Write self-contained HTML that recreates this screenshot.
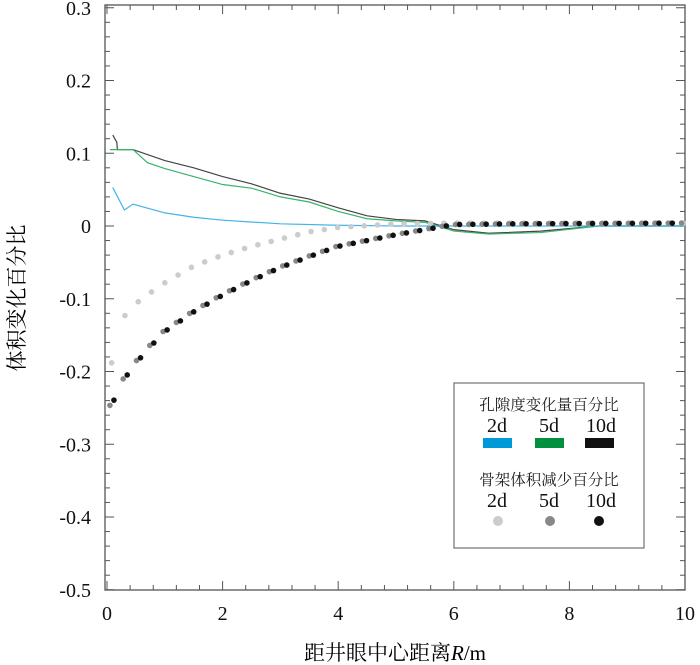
<html><head><style>body{margin:0;background:#fff}svg text{font-family:"Liberation Serif","Noto Serif CJK SC",serif}</style></head><body>
<svg id="s" width="700" height="665" xmlns="http://www.w3.org/2000/svg">
<rect x="105" y="5" width="580" height="585" fill="none" stroke="#555" stroke-width="1.3"/>
<g id="ax" stroke="#555" stroke-width="1"></g>
<g id="lab" font-size="20" fill="#111"></g>
<g id="dat"></g>
<text x="395" y="660" font-size="21" text-anchor="middle" font-family="'Liberation Serif','Noto Sans CJK SC',serif">距井眼中心距离<tspan font-style="italic">R</tspan>/m</text>
<text transform="translate(24,298) rotate(-90)" font-size="21" text-anchor="middle" font-family="'Noto Sans CJK SC',sans-serif">体积变化百分比</text>
<rect x="454" y="383" width="190" height="165" fill="#fff" stroke="#555" stroke-width="1"/>
<g font-size="15.5" font-family="'Noto Sans CJK SC',sans-serif" fill="#222"><text x="549" y="410" text-anchor="middle">孔隙度变化量百分比</text><text x="549" y="485" text-anchor="middle">骨架体积减少百分比</text></g>
<g font-size="20" fill="#111" text-anchor="middle"><text x="497" y="432">2d</text><text x="549" y="432">5d</text><text x="601" y="432">10d</text><text x="497" y="507">2d</text><text x="549" y="507">5d</text><text x="601" y="507">10d</text></g>
<rect x="483" y="438" width="29" height="10" fill="#0099d8"/><rect x="535" y="438" width="29" height="10" fill="#009040"/><rect x="585" y="438" width="29" height="10" fill="#111"/>
<circle cx="498" cy="521" r="5" fill="#ccc"/><circle cx="550" cy="521" r="5" fill="#888"/><circle cx="599" cy="521" r="5" fill="#111"/>
</svg>
<script>
var X=x=>107+57.8*x,Y=y=>226-727.5*y,ns="http://www.w3.org/2000/svg";
function el(p,t,a){var e=document.createElementNS(ns,t);for(var k in a)e.setAttribute(k,a[k]);document.getElementById(p).appendChild(e);return e}
for(var i=0;i<=40;i++){var v=0.3-i*0.02,y=Y(v),m=i%5==0,L=m?9:5;el("ax","line",{x1:105,x2:105+L,y1:y,y2:y});el("ax","line",{x1:685,x2:685-L,y1:y,y2:y});
if(m){var t=el("lab","text",{x:91,y:y+7,"text-anchor":"end"});var r=Math.round(v*10)/10;t.textContent=r==0?"0":r.toFixed(1)}}
for(var i=0;i<=25;i++){var x=X(i*0.4),m=i%5==0,L=m?9:5;el("ax","line",{x1:x,x2:x,y1:590,y2:590-L});el("ax","line",{x1:x,x2:x,y1:5,y2:5+L});
if(m){var t=el("lab","text",{x:x,y:620,"text-anchor":"middle"});t.textContent=i*0.4}}
function interp(P,x){for(var i=0;i<P.length-1;i++)if(x<=P[i+1][0]){var a=P[i],b=P[i+1];return a[1]+(b[1]-a[1])*(x-a[0])/(b[0]-a[0])}return P[P.length-1][1]}
function line(P,c){el("dat","polyline",{points:P.map(p=>X(p[0])+","+Y(p[1])).join(" "),fill:"none",stroke:c,"stroke-width":1.2})}
line([[0.1,0.125],[0.17,0.115],[0.18,0.105],[0.45,0.105],[1,0.09],[1.5,0.08],[2,0.068],[2.5,0.058],[3,0.045],[3.5,0.037],[4,0.025],[4.5,0.014],[5,0.009],[5.5,0.007],[6,-0.005],[6.6,-0.01],[7.5,-0.007],[8.5,0],[10,0]],"#444");
line([[0.05,0.105],[0.45,0.105],[0.7,0.087],[1,0.079],[1.5,0.068],[2,0.057],[2.5,0.052],[3,0.04],[3.5,0.033],[4,0.02],[4.5,0.01],[5,0.007],[5.5,0.005],[6,-0.007],[6.6,-0.011],[7.5,-0.009],[8.5,0],[10,0]],"#3bb36a");
line([[0.1,0.053],[0.3,0.022],[0.45,0.03],[1,0.018],[1.5,0.012],[2,0.008],[3,0.003],[4,0.001],[5,0],[10,0]],"#44b4e8");
var G=[[0.1,-0.18],[0.2,-0.14],[0.35,-0.117],[0.6,-0.1],[1,-0.078],[1.5,-0.055],[2,-0.04],[2.5,-0.028],[3,-0.018],[3.5,-0.008],[4,-0.002],[5,0.003],[6,0.004],[10,0.004]];
var D=[[0.1,-0.243],[0.2,-0.225],[0.4,-0.198],[0.7,-0.17],[1,-0.145],[1.5,-0.118],[2,-0.095],[2.5,-0.075],[3,-0.057],[3.5,-0.042],[4,-0.028],[4.5,-0.02],[5,-0.012],[5.5,-0.005],[6,0.002],[7,0.003],[10,0.004]];
for(var x=0.08;x<=10;x+=0.23)el("dat","circle",{cx:X(x),cy:Y(interp(G,x)),r:2.8,fill:"#ccc"});
for(var x=0.05;x<=10;x+=0.23)el("dat","circle",{cx:X(x),cy:Y(interp(D,x+0.03)),r:2.8,fill:"#888"});
for(var x=0.12;x<=10;x+=0.23)el("dat","circle",{cx:X(x),cy:Y(interp(D,x)),r:2.8,fill:"#111"});
</script></body></html>
